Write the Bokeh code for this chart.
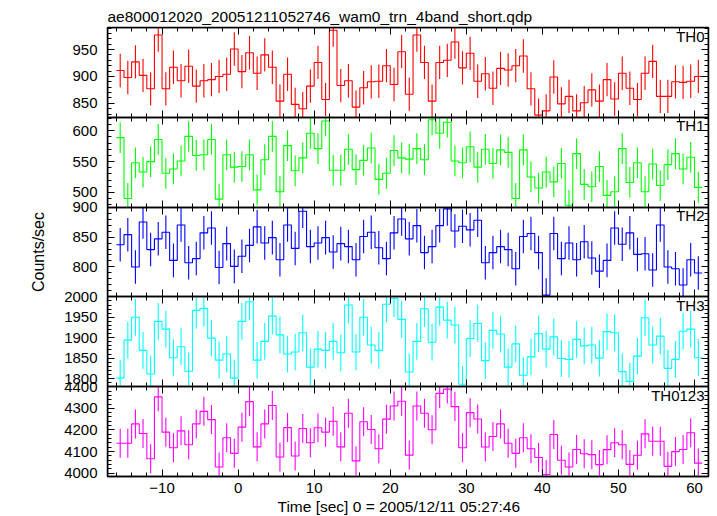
import numpy as np
from bokeh.plotting import figure
from bokeh.models import (Range1d, LinearAxis, SingleIntervalTicker, FixedTicker, Label, Title,
                          CustomJSTickFormatter)
from bokeh.embed import file_html
from bokeh.resources import INLINE

title_text = "ae800012020_20051211052746_wam0_trn_4band_short.qdp"
xlabel_text = "Time [sec] 0 = 2005/12/11 05:27:46"
ylabel_text = "Counts/sec"

bin_start = -16.0
bin_width = 1.0

th0 = [911, 898, 927, 902, 877, 977, 877, 917, 892, 919, 882, 892, 894, 900, 904, 951, 909, 944, 906, 940,
       917, 854, 904, 848, 840, 882, 926, 857, 986, 883, 892, 843, 879, 890, 891, 920, 885, 946, 867, 977,
       926, 854, 926, 930, 964, 916, 943, 891, 905, 878, 915, 912, 920, 938, 877, 828, 836, 899, 849, 863,
       836, 851, 875, 854, 894, 858, 906, 878, 857, 906, 928, 863, 863, 890, 889, 891, 900]
th1 = [589, 490, 548, 533, 550, 586, 531, 538, 551, 591, 560, 561, 586, 489, 561, 541, 542, 561, 504, 553,
       591, 501, 576, 535, 556, 596, 571, 616, 536, 536, 570, 537, 552, 572, 521, 531, 568, 556, 554, 571,
       553, 618, 596, 614, 551, 548, 574, 541, 570, 547, 569, 565, 490, 569, 525, 507, 533, 517, 547, 479,
       563, 513, 509, 542, 495, 501, 571, 516, 548, 501, 546, 511, 545, 563, 538, 557, 508]
th2 = [837, 854, 800, 875, 829, 847, 858, 811, 870, 807, 814, 857, 865, 799, 839, 801, 818, 836, 867, 840,
       849, 812, 870, 831, 893, 834, 840, 849, 825, 839, 834, 812, 851, 858, 832, 814, 857, 880, 847, 869,
       824, 834, 869, 897, 860, 868, 862, 878, 807, 824, 834, 829, 797, 851, 856, 824, 753, 856, 814, 840,
       812, 842, 815, 793, 811, 865, 838, 857, 821, 822, 795, 870, 800, 797, 770, 812, 790]
th3 = [1801, 1894, 1950, 1869, 1811, 1940, 1921, 1851, 1878, 1818, 1967, 1972, 1899, 1845, 1860, 1801, 1940,
       1988, 1845, 1891, 1953, 1907, 1860, 1865, 1912, 1828, 1872, 1869, 1891, 1863, 1980, 1865, 1950, 1882,
       1869, 1982, 1996, 1945, 1816, 1891, 1971, 1889, 1975, 1943, 1931, 1786, 1898, 1935, 1844, 1918, 1909,
       1828, 1885, 1808, 1853, 1910, 1872, 1902, 1849, 1847, 1896, 1880, 1882, 1850, 1915, 1912, 1817, 1793,
       1855, 1949, 1882, 1904, 1825, 1847, 1916, 1921, 1851]
th0123 = [4139, 4139, 4228, 4184, 4067, 4353, 4190, 4118, 4196, 4132, 4228, 4286, 4248, 4029, 4164, 4092, 4213,
          4331, 4122, 4228, 4313, 4075, 4211, 4080, 4207, 4141, 4210, 4190, 4240, 4122, 4277, 4057, 4238, 4202,
          4113, 4250, 4311, 4333, 4084, 4311, 4277, 4201, 4369, 4389, 4308, 4118, 4280, 4251, 4121, 4170, 4228,
          4139, 4092, 4164, 4113, 4073, 3994, 4179, 4060, 4029, 4110, 4090, 4086, 4040, 4109, 4141, 4132, 4041,
          4083, 4182, 4148, 4148, 4032, 4100, 4110, 4187, 4047]

series = [th0, th1, th2, th3, th0123]
names = ["TH0", "TH1", "TH2", "TH3", "TH0123"]
errors = [31, 25, 28, 45, 67]
ylims = [(824, 991), (476, 622), (750, 900), (1780, 2000), (3985, 4400)]
ymajor = [50, 50, 50, 50, 100]
colors = ["#ff0000", "#00ff00", "#0000ff", "#00ffff", "#ff00ff"]

XLO, XHI = -17.17, 61.84
FONT = "Liberation Sans"
FS = "15px"
NP = len(series)

p = figure(width=717, height=516, x_range=Range1d(XLO, XHI), y_range=Range1d(0, NP),
           output_backend="svg", toolbar_location=None, y_axis_location=None,
           min_border_left=107, min_border_right=9, min_border_top=27, min_border_bottom=40)
p.grid.visible = False
p.outline_line_color = "black"
p.outline_line_width = 1.5
p.background_fill_color = "white"
p.border_fill_color = "white"


def style_axis(ax, labels=True):
    ax.major_tick_in = 7
    ax.major_tick_out = 0
    ax.minor_tick_in = 4
    ax.minor_tick_out = 0
    ax.axis_line_color = "black"
    ax.axis_line_width = 1.5
    ax.major_tick_line_color = "black"
    ax.minor_tick_line_color = "black"
    if labels:
        ax.major_label_text_font = FONT
        ax.major_label_text_font_size = FS
        ax.major_label_text_color = "black"
    else:
        ax.formatter = CustomJSTickFormatter(code="return ''")
        ax.major_label_text_font_size = "0px"
        ax.major_label_standoff = 0


xax = p.xaxis[0]
xax.ticker = SingleIntervalTicker(interval=10, num_minor_ticks=5)
style_axis(xax)
xax.major_label_standoff = 6

extra = {}
for k in range(NP):
    lo, hi = ylims[k]
    span = hi - lo
    extra[names[k]] = Range1d(lo - (NP - 1 - k) * span, hi + k * span)
p.extra_y_ranges = extra

# tick labels of every panel, placed on one left axis through the panel layout
lab_pos, lab_txt = [], []
for k in range(NP):
    lo, hi = ylims[k]
    m = ymajor[k]
    vals_t = np.arange(np.floor(lo / m) * m + m, hi + 1e-9, m)
    for t in vals_t:
        lab_pos.append(float((NP - 1 - k) + (t - lo) / (hi - lo)))
        lab_txt.append(str(int(round(t))))

lab_axis = LinearAxis(ticker=FixedTicker(ticks=lab_pos, minor_ticks=[]),
                      formatter=CustomJSTickFormatter(
                          args=dict(pos=lab_pos, labs=lab_txt),
                          code="for (let i = 0; i < pos.length; i++) { if (Math.abs(pos[i] - tick) < 1e-6) return labs[i]; } return '';"))
lab_axis.major_tick_in = 0
lab_axis.major_tick_out = 0
lab_axis.minor_tick_in = 0
lab_axis.minor_tick_out = 0
lab_axis.axis_line_color = None
lab_axis.major_tick_line_color = None
lab_axis.minor_tick_line_color = None
lab_axis.major_label_text_font = FONT
lab_axis.major_label_text_font_size = FS
lab_axis.major_label_text_color = "black"
lab_axis.major_label_standoff = 10
lab_axis.axis_label = ylabel_text
lab_axis.axis_label_text_font = FONT
lab_axis.axis_label_text_font_size = "16px"
lab_axis.axis_label_text_font_style = "normal"
lab_axis.axis_label_text_color = "black"
lab_axis.axis_label_standoff = 14
p.add_layout(lab_axis, "left")

n = len(th0)
edges = bin_start + bin_width * np.arange(n + 1)
centers = bin_start + bin_width * (np.arange(n) + 0.5)

for k in range(NP):
    lo, hi = ylims[k]
    rn = names[k]
    vals = np.array(series[k], dtype=float)
    c = colors[k]

    for side, loc in (("left", XLO), ("right", XHI)):
        ax = LinearAxis(y_range_name=rn, fixed_location=loc, bounds=(lo, hi),
                        ticker=SingleIntervalTicker(interval=ymajor[k], num_minor_ticks=5))
        style_axis(ax, labels=False)
        p.add_layout(ax, side)

    top = LinearAxis(y_range_name=rn, fixed_location=hi,
                     ticker=SingleIntervalTicker(interval=10, num_minor_ticks=5))
    style_axis(top, labels=False)
    p.add_layout(top, "above")
    if k < NP - 1:
        bot = LinearAxis(y_range_name=rn, fixed_location=lo,
                         ticker=SingleIntervalTicker(interval=10, num_minor_ticks=5))
        style_axis(bot, labels=False)
        p.add_layout(bot, "below")

    ystep = np.clip(np.append(vals, vals[-1]), lo, hi)
    p.step(edges, ystep, mode="after", y_range_name=rn, line_color=c, line_width=1.1)
    y0 = np.clip(vals - errors[k], lo, hi)
    y1 = np.clip(vals + errors[k], lo, hi)
    p.segment(centers, y0, centers, y1, y_range_name=rn, line_color=c, line_width=1.1)

    p.add_layout(Label(x=XHI, y=hi, y_range_name=rn, x_offset=-4, y_offset=0,
                       text=names[k], text_align="right", text_baseline="top",
                       text_font=FONT, text_font_size=FS, text_color="black"))

p.add_layout(Title(text=title_text, align="left", text_font=FONT, text_font_size="15.5px",
                   text_font_style="normal", text_color="black", standoff=5), "above")
p.add_layout(Title(text=xlabel_text, align="left", offset=170, text_font=FONT, text_font_size="15.5px",
                   text_font_style="normal", text_color="black", standoff=1), "below")

open("out.html", "w").write(file_html(p, INLINE))
